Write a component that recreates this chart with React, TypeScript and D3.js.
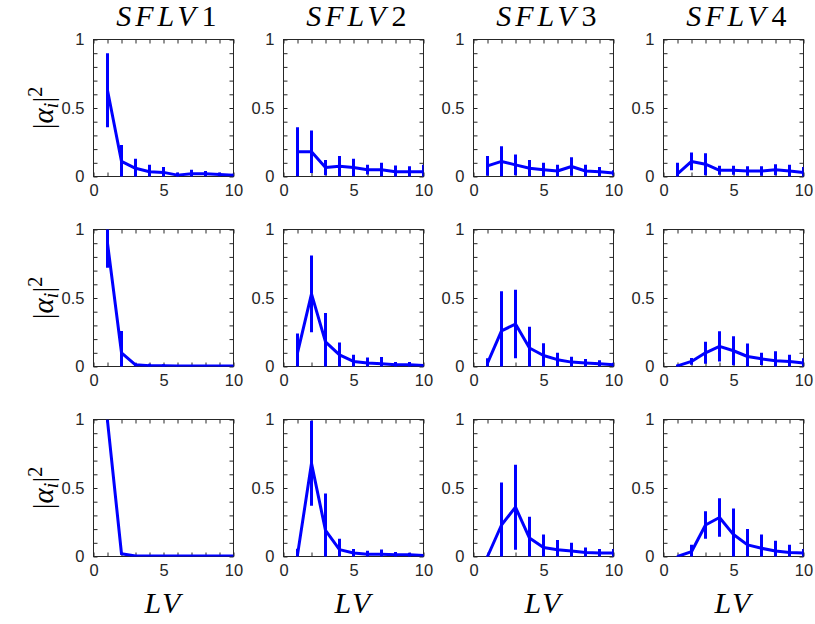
import React, { useEffect, useRef } from 'react';
import * as d3 from 'd3';

// latent variable index on x
const lvs = [1, 2, 3, 4, 5, 6, 7, 8, 9, 10];
const columnIds = ['1', '2', '3', '4'];
const xTicks = [0, 1, 2, 3, 4, 5, 6, 7, 8, 9, 10];
const xTickLabels = [0, 5, 10];
const yTicks = [0, 0.1, 0.2, 0.3, 0.4, 0.5, 0.6, 0.7, 0.8, 0.9, 1];
const yTickLabels = [0, 0.5, 1];

// mean |alpha_i|^2 and error bar half width
const meanR1C1 = [0.63, 0.11, 0.06, 0.035, 0.03, 0.01, 0.02, 0.02, 0.015, 0.01];
const errR1C1 = [0.27, 0.12, 0.07, 0.05, 0.04, 0.02, 0.03, 0.02, 0.015, 0.01];
const meanR1C2 = [0.18, 0.18, 0.065, 0.075, 0.065, 0.05, 0.05, 0.035, 0.035, 0.035];
const errR1C2 = [0.18, 0.155, 0.055, 0.075, 0.065, 0.035, 0.05, 0.045, 0.04, 0.05];
const meanR1C3 = [0.078, 0.11, 0.085, 0.06, 0.05, 0.04, 0.073, 0.04, 0.035, 0.025];
const errR1C3 = [0.072, 0.11, 0.075, 0.06, 0.05, 0.045, 0.067, 0.045, 0.035, 0.02];
const meanR1C4 = [0.02, 0.11, 0.09, 0.045, 0.045, 0.04, 0.04, 0.05, 0.04, 0.03];
const errR1C4 = [0.08, 0.065, 0.08, 0.033, 0.033, 0.035, 0.035, 0.04, 0.045, 0.04];

const meanR2C1 = [0.9, 0.1, 0.012, 0.005, 0.005, 0.003, 0.003, 0.003, 0.003, 0.003];
const errR2C1 = [0.18, 0.16, 0.012, 0.015, 0.012, 0.004, 0.004, 0.004, 0.004, 0.004];
const meanR2C2 = [0.1, 0.53, 0.18, 0.085, 0.037, 0.025, 0.02, 0.012, 0.012, 0.007];
const errR2C2 = [0.14, 0.28, 0.21, 0.09, 0.048, 0.04, 0.05, 0.02, 0.02, 0.01];
const meanR2C3 = [0.025, 0.26, 0.31, 0.135, 0.08, 0.05, 0.032, 0.025, 0.02, 0.012];
const errR2C3 = [0.035, 0.29, 0.25, 0.155, 0.09, 0.05, 0.04, 0.03, 0.025, 0.015];
const meanR2C4 = [0.005, 0.037, 0.1, 0.147, 0.115, 0.073, 0.056, 0.042, 0.037, 0.025];
const errR2C4 = [0.01, 0.025, 0.08, 0.11, 0.105, 0.095, 0.045, 0.07, 0.048, 0.035];

const meanR3C1 = [0.99, 0.02, 0.003, 0.003, 0.003, 0.003, 0.003, 0.003, 0.003, 0.003];
const errR3C1 = [0.01, 0.005, 0.002, 0.002, 0.002, 0.002, 0.002, 0.002, 0.002, 0.002];
const meanR3C2 = [0.012, 0.68, 0.19, 0.05, 0.025, 0.017, 0.017, 0.012, 0.012, 0.007];
const errR3C2 = [0.045, 0.31, 0.27, 0.08, 0.03, 0.025, 0.035, 0.02, 0.015, 0.008];
const meanR3C3 = [0.0, 0.23, 0.36, 0.135, 0.066, 0.05, 0.04, 0.03, 0.025, 0.025];
const errR3C3 = [0.005, 0.31, 0.31, 0.155, 0.095, 0.07, 0.06, 0.035, 0.03, 0.03];
const meanR3C4 = [0.0, 0.035, 0.23, 0.285, 0.16, 0.085, 0.06, 0.04, 0.03, 0.025];
const errR3C4 = [0.005, 0.05, 0.1, 0.14, 0.19, 0.115, 0.1, 0.075, 0.055, 0.03];

const panels = [
    [[meanR1C1, errR1C1], [meanR1C2, errR1C2], [meanR1C3, errR1C3], [meanR1C4, errR1C4]],
    [[meanR2C1, errR2C1], [meanR2C2, errR2C2], [meanR2C3, errR2C3], [meanR2C4, errR2C4]],
    [[meanR3C1, errR3C1], [meanR3C2, errR3C2], [meanR3C3, errR3C3], [meanR3C4, errR3C4]],
];

const axisColor = '#262626';
const tickFont = '"Liberation Sans", Arial, sans-serif';
const mathFont = '"Liberation Serif", "Times New Roman", serif';

const App = () => {
    const chartRef = useRef<SVGSVGElement>(null);

    useEffect(() => {
        drawChart();
    }, []);

    const drawChart = () => {
        const svg = d3.select(chartRef.current);
        svg.selectAll('*').remove();

        const w = 140;
        const h = 137;

        panels.forEach((row, r) => {
            row.forEach(([means, errs], c) => {
                const left = 93.5 + 190 * c;
                const top = 39.5 + 190 * r;
                const cx = left + w / 2;

                const x = d3.scaleLinear().domain([0, 10]).range([left, left + w]);
                const y = d3.scaleLinear().domain([0, 1]).range([top + h, top]);

                const id = `clip-${r}-${c}`;
                svg.append('clipPath').attr('id', id)
                    .append('rect')
                    .attr('x', left).attr('y', top).attr('width', w).attr('height', h);

                const styleAxis = (g) => {
                    g.attr('font-size', 16.5).attr('font-family', tickFont);
                    g.select('.domain').remove();
                    g.selectAll('line').attr('stroke', axisColor);
                    g.selectAll('text').attr('fill', axisColor);
                };

                svg.append('g')
                    .attr('transform', `translate(0,${top + h})`)
                    .call(d3.axisBottom(x).tickValues(xTicks).tickSizeInner(-4).tickSizeOuter(0).tickPadding(8)
                        .tickFormat(d => (xTickLabels.includes(d) ? String(d) : '')))
                    .call(styleAxis);
                svg.append('g')
                    .attr('transform', `translate(0,${top})`)
                    .call(d3.axisTop(x).tickValues(xTicks).tickSizeInner(-4).tickSizeOuter(0).tickFormat(() => ''))
                    .call(styleAxis);
                svg.append('g')
                    .attr('transform', `translate(${left},0)`)
                    .call(d3.axisLeft(y).tickValues(yTicks).tickSizeInner(-4).tickSizeOuter(0).tickPadding(9)
                        .tickFormat(d => (yTickLabels.some(v => Math.abs(v - d) < 1e-9) ? String(d) : '')))
                    .call(styleAxis);
                svg.append('g')
                    .attr('transform', `translate(${left + w},0)`)
                    .call(d3.axisRight(y).tickValues(yTicks).tickSizeInner(-4).tickSizeOuter(0).tickFormat(() => ''))
                    .call(styleAxis);

                svg.append('rect')
                    .attr('x', left).attr('y', top).attr('width', w).attr('height', h)
                    .attr('fill', 'none').attr('stroke', axisColor).attr('stroke-width', 1);

                const pts = lvs.map((lv, i) => ({ lv, m: means[i], e: errs[i] }));
                const plot = svg.append('g').attr('clip-path', `url(#${id})`);

                plot.selectAll('.bar')
                    .data(pts)
                    .enter().append('line')
                    .attr('class', 'bar')
                    .attr('x1', d => x(d.lv)).attr('x2', d => x(d.lv))
                    .attr('y1', d => y(d.m - d.e)).attr('y2', d => y(d.m + d.e))
                    .attr('stroke', '#0000ff').attr('stroke-width', 3);

                plot.append('path')
                    .datum(pts)
                    .attr('d', d3.line().x(d => x(d.lv)).y(d => y(d.m)))
                    .attr('fill', 'none')
                    .attr('stroke', '#0000ff')
                    .attr('stroke-width', 3)
                    .attr('stroke-linejoin', 'round');

                if (r === 0) {
                    // title: italic letters, upright digit (LaTeX math style)
                    svg.append('text')
                        .attr('x', cx + 36).attr('y', 26)
                        .attr('text-anchor', 'end')
                        .attr('letter-spacing', 4)
                        .style('font-family', mathFont).style('font-size', '30px').style('font-style', 'italic')
                        .text('SFLV');
                    svg.append('text')
                        .attr('x', cx + 38).attr('y', 26)
                        .style('font-family', mathFont).style('font-size', '30px')
                        .text(columnIds[c]);
                }
                if (r === 2) {
                    svg.append('text')
                        .attr('x', cx).attr('y', 613)
                        .attr('text-anchor', 'middle')
                        .attr('letter-spacing', 2)
                        .style('font-family', mathFont).style('font-size', '30px').style('font-style', 'italic')
                        .text('LV');
                }
                if (c === 0) {
                    const t = svg.append('text')
                        .attr('transform', `translate(53,${top + h / 2}) rotate(-90)`)
                        .attr('text-anchor', 'middle')
                        .style('font-family', mathFont).style('font-size', '29px');
                    t.append('tspan').text('|');
                    t.append('tspan').style('font-style', 'italic').text('α');
                    t.append('tspan').style('font-style', 'italic').style('font-size', '20px').attr('dy', 5).text('i');
                    t.append('tspan').attr('dy', -5).text('|');
                    t.append('tspan').style('font-size', '20px').attr('dy', -11).text('2');
                }
            });
        });
    };

    return (
        <svg ref={chartRef} width={815} height={624}
            style={{ position: 'absolute', left: 0, top: 0, background: '#fff' }} />
    );
};

export default App;
